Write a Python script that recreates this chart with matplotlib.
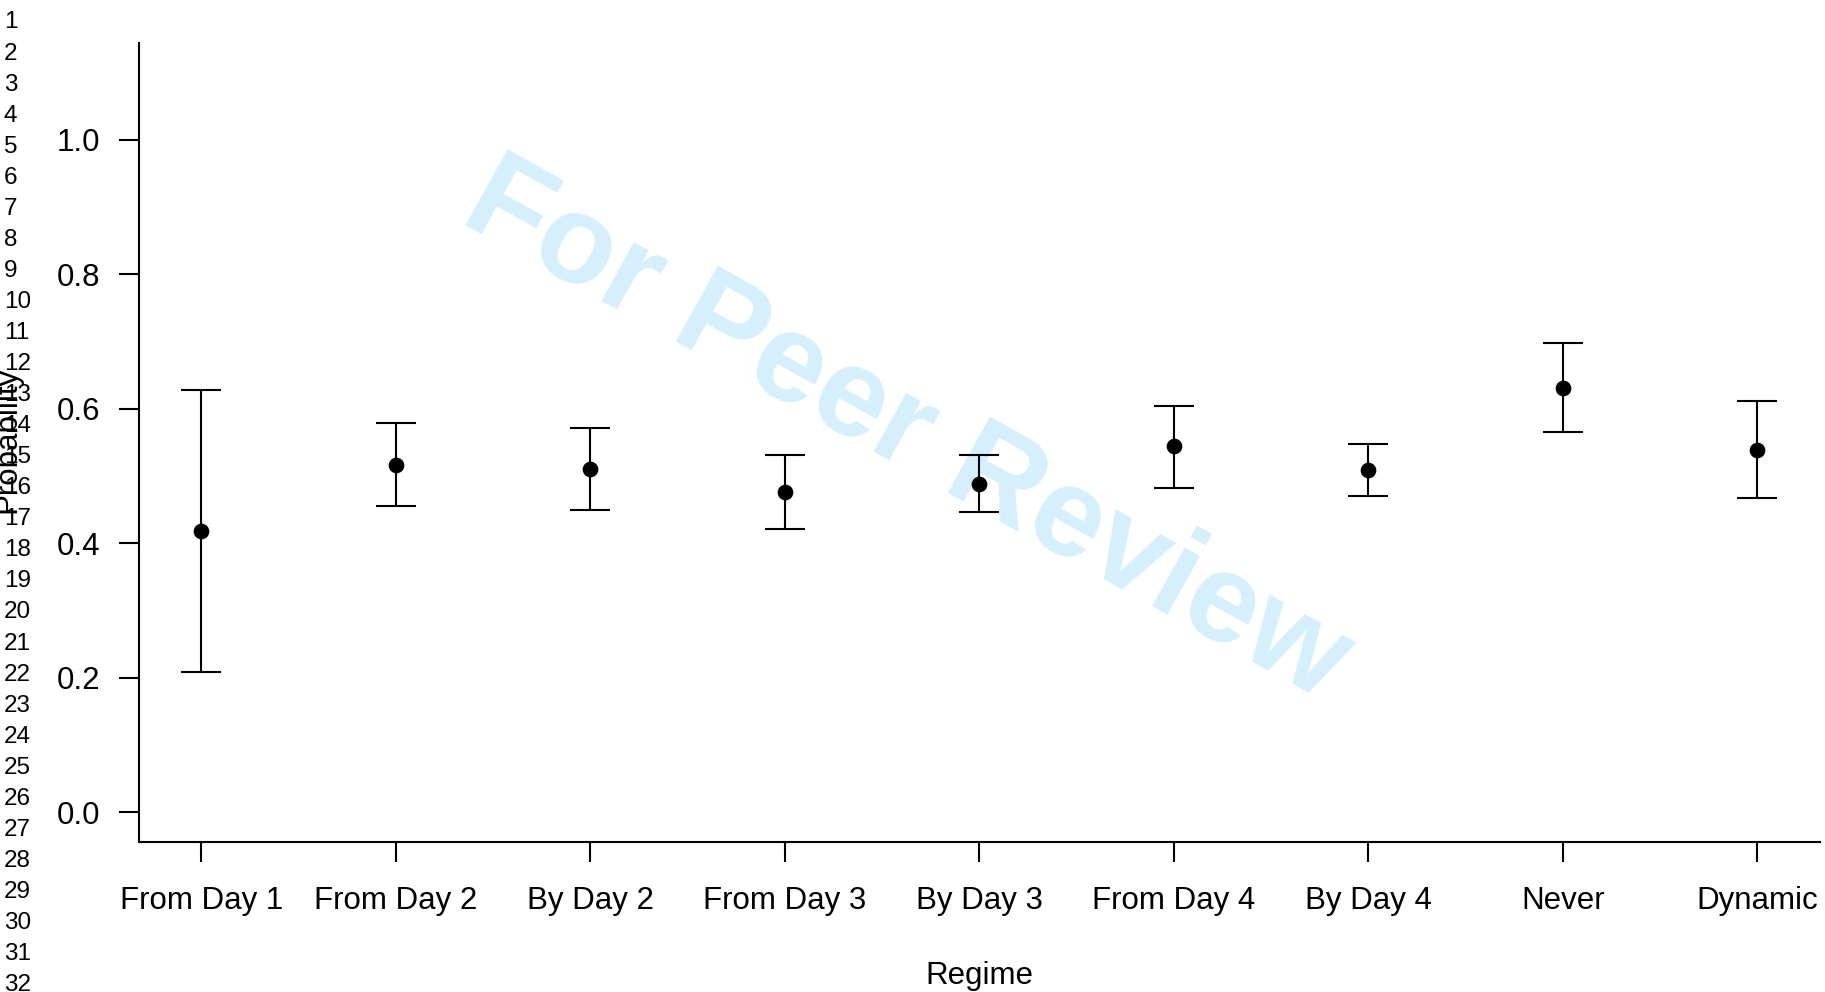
import matplotlib
matplotlib.use("Agg")
import matplotlib.pyplot as plt

plt.rcParams['font.family'] = ['Liberation Sans', 'DejaVu Sans']

# regimes and estimated probabilities with interval bounds
regimes = ["From Day 1", "From Day 2", "By Day 2", "From Day 3", "By Day 3",
           "From Day 4", "By Day 4", "Never", "Dynamic"]
est = [0.418, 0.516, 0.510, 0.477, 0.488, 0.544, 0.509, 0.631, 0.539]
lower = [0.208, 0.455, 0.450, 0.422, 0.447, 0.482, 0.470, 0.565, 0.467]
upper = [0.628, 0.579, 0.571, 0.531, 0.531, 0.604, 0.547, 0.698, 0.612]
yticks = [0.0, 0.2, 0.4, 0.6, 0.8, 1.0]
line_numbers = list(range(1, 33))

W, H = 1825, 992
fig = plt.figure(figsize=(W / 100, H / 100), dpi=100)

# axes placed in pixel terms (R style: 4% padding around xlim 1..9, ylim 0..1.1)
left, right, top, bottom = 139.2, 1819.7, 43.0, 841.9
ax = fig.add_axes([left / W, 1 - bottom / H, (right - left) / W, (bottom - top) / H])

xs = list(range(1, len(regimes) + 1))
err_lo = [e - l for e, l in zip(est, lower)]
err_hi = [u - e for u, e in zip(upper, est)]
ax.errorbar(xs, est, yerr=[err_lo, err_hi], fmt='o', color='black',
            markersize=10.3, elinewidth=1.5, capsize=14.2, capthick=1.5, zorder=3)

ax.set_xlim(0.68, 9.32)
ax.set_ylim(-0.044, 1.144)
ax.set_xticks(xs)
ax.set_xticklabels(regimes, fontsize=22.5)
ax.set_yticks(yticks)
ax.set_yticklabels(["%.1f" % v for v in yticks], fontsize=22.5)
ax.tick_params(direction='out', length=14.4, width=1.5, color='black')
ax.tick_params(axis='x', pad=17.5)
ax.tick_params(axis='y', pad=13.5)

for s in ['top', 'right']:
    ax.spines[s].set_visible(False)
for s in ['left', 'bottom']:
    ax.spines[s].set_linewidth(1.5)

fig.text(979.5 / W, 1 - 976 / H, "Regime", ha='center', va='center', fontsize=22.5)
fig.text(15 / W, 1 - 440 / H, "Probability", rotation=90, rotation_mode='anchor',
         ha='center', va='baseline', fontsize=22.5)

for i, n in enumerate(line_numbers):
    fig.text(4 / W, 1 - (22.5 + i * 31.05) / H, str(n), ha='left', va='center', fontsize=17.5)

# review watermark, kept underneath the error bars
ax.text(890 / W, 1 - 461 / H, "For Peer Review", transform=fig.transFigure,
        rotation=-29, rotation_mode='anchor', ha='center', va='baseline',
        fontsize=91.5, fontweight='bold', color='#d5effc', zorder=0, clip_on=False)

fig.savefig("out.png", dpi=100)
